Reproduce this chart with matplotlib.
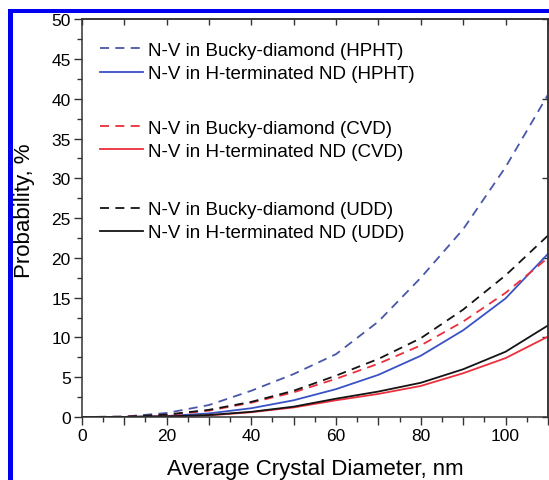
import matplotlib
matplotlib.use('Agg')
import matplotlib.pyplot as plt
from matplotlib.patches import Rectangle
from matplotlib.ticker import MultipleLocator, FixedLocator, FuncFormatter

plt.rcParams['font.family'] = ['Liberation Sans', 'DejaVu Sans']

# average crystal diameter, nm
diameter = [0, 10, 20, 30, 40, 50, 60, 70, 80, 90, 100, 110]

# probability, %
hpht_bucky = [0, 0.05, 0.5, 1.5, 3.3, 5.4, 7.9, 12.0, 17.5, 23.6, 31.4, 40.5]
hpht_hterm = [0, 0.01, 0.12, 0.45, 1.1, 2.1, 3.5, 5.3, 7.7, 10.9, 14.9, 20.5]
cvd_bucky = [0, 0.03, 0.25, 0.8, 1.8, 3.1, 4.8, 6.7, 9.0, 12.0, 15.6, 20.0]
cvd_hterm = [0, 0.005, 0.06, 0.2, 0.6, 1.2, 2.1, 2.9, 3.9, 5.5, 7.4, 10.1]
udd_bucky = [0, 0.03, 0.3, 0.9, 1.9, 3.3, 5.2, 7.3, 9.9, 13.5, 17.8, 22.8]
udd_hterm = [0, 0.005, 0.07, 0.25, 0.65, 1.3, 2.3, 3.2, 4.3, 6.0, 8.2, 11.5]

labels = ['N-V in Bucky-diamond (HPHT)', 'N-V in H-terminated ND (HPHT)',
          'N-V in Bucky-diamond (CVD)', 'N-V in H-terminated ND (CVD)',
          'N-V in Bucky-diamond (UDD)', 'N-V in H-terminated ND (UDD)']

blue_d, blue_s = '#4a56a8', '#3a52c4'
red = '#ec2f3c'
black = '#141414'
dash = (0, (5, 3.5))

fig = plt.figure(figsize=(5.49, 4.81), dpi=100)
ax = fig.add_axes([0.149, 0.131, 0.849, 0.827])

l1, = ax.plot(diameter, hpht_bucky, color=blue_d, ls=dash, lw=1.3, label=labels[0])
l2, = ax.plot(diameter, hpht_hterm, color=blue_s, lw=1.3, label=labels[1])
l3, = ax.plot(diameter, cvd_bucky, color=red, ls=dash, lw=1.3, label=labels[2])
l4, = ax.plot(diameter, cvd_hterm, color=red, lw=1.3, label=labels[3])
l5, = ax.plot(diameter, udd_bucky, color=black, ls=dash, lw=1.3, label=labels[4])
l6, = ax.plot(diameter, udd_hterm, color=black, lw=1.3, label=labels[5])

ax.set_xlim(0, 110)
ax.set_ylim(0, 50)

# ticks: bottom/left outward, top/right inward
ax.xaxis.set_major_locator(MultipleLocator(10))
ax.xaxis.set_minor_locator(MultipleLocator(5))
ax.xaxis.set_major_formatter(FuncFormatter(lambda v, p: '%d' % v if v % 20 == 0 else ''))
ax.yaxis.set_major_locator(MultipleLocator(5))
ax.yaxis.set_minor_locator(MultipleLocator(2.5))
ax.tick_params(which='major', direction='out', length=6, width=1, color='#333333',
               labelsize=12.5, pad=2)
ax.tick_params(which='minor', direction='out', length=3.5, width=1, color='#333333')

top = ax.secondary_xaxis('top')
top.xaxis.set_major_locator(FixedLocator(range(0, 111, 10)))
top.tick_params(direction='in', length=4, width=1, color='#333333', labeltop=False)
right = ax.secondary_yaxis('right')
right.yaxis.set_major_locator(FixedLocator(range(0, 51, 10)))
right.tick_params(direction='in', length=4, width=1, color='#333333', labelright=False)

for a in (ax, top, right):
    for s in a.spines.values():
        s.set_color('#333333')
        s.set_linewidth(1.1)

ax.set_xlabel('Average Crystal Diameter, nm', fontsize=16)
ax.set_ylabel('Probability, %', fontsize=16)
ax.xaxis.set_label_coords(0.5, -0.103)
ax.yaxis.set_label_coords(-0.1, 0.52)

# three legend groups
groups = [([l1, l2], 0.943), ([l3, l4], 0.748), ([l5, l6], 0.543)]
for i, (handles, ytop) in enumerate(groups):
    leg = ax.legend(handles=handles, loc='upper left', bbox_to_anchor=(0.038, ytop),
                    frameon=False, fontsize=13.5, handlelength=2.3, handletextpad=0.3,
                    labelspacing=0.32, borderpad=0, borderaxespad=0)
    if i < len(groups) - 1:
        ax.add_artist(leg)

# blue frame on the left and top
fig.add_artist(Rectangle((0.0146, 0), 0.0091, 0.98, transform=fig.transFigure,
                         color='#0000f0', lw=0))
fig.add_artist(Rectangle((0.0146, 0.971), 0.99, 0.009, transform=fig.transFigure,
                         color='#0000f0', lw=0))

fig.savefig('out.png', dpi=100)
